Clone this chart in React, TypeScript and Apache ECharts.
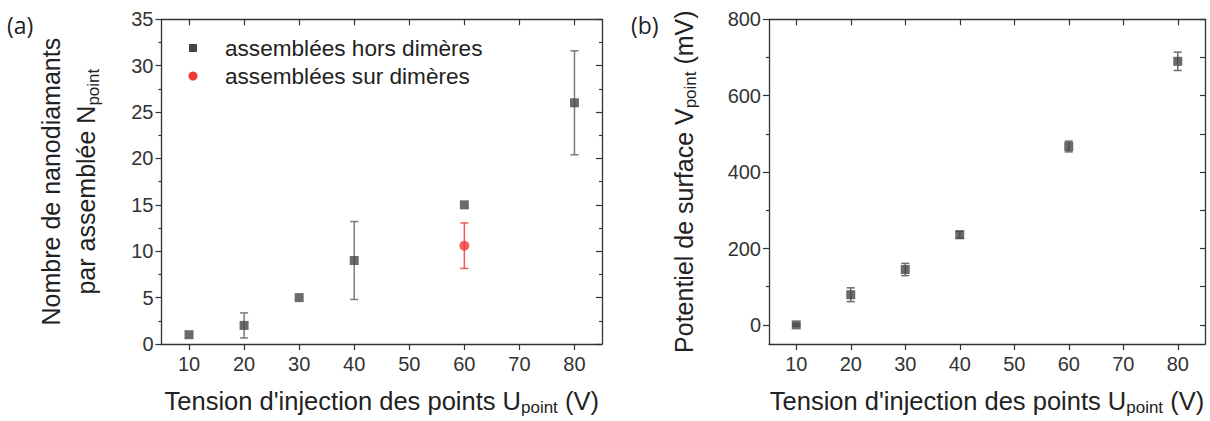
import React, { useEffect, useRef } from "react";
import * as echarts from "echarts";

// ---------- data ----------
const xTicks = [10, 20, 30, 40, 50, 60, 70, 80];

// (a) Nombre de nanodiamants par assemblée
const horsX = [10, 20, 30, 40, 60, 80];
const horsY = [1, 2, 5, 9, 15, 26];
const horsErr = [0, 1.35, 0, 4.2, 0, 5.6];
const surX = [60];
const surY = [10.6];
const surErr = [2.45];

// (b) Potentiel de surface
const vX = [10, 20, 30, 40, 60, 80];
const vY = [0, 79, 145, 236, 467, 690];
const vErr = [3, 18, 16, 9, 14, 24];

const bMajor = [0, 200, 400, 600, 800];
const bMinor = [100, 300, 500, 700];
const bAll = [0, 100, 200, 300, 400, 500, 600, 700, 800];

const legendLabels = ["assemblées hors dimères", "assemblées sur dimères"];

// ---------- styles ----------
const FONT = "Liberation Sans, Arial, sans-serif";
const GREY = "#464646";
const RED = "#f03a3a";
const AXIS = "#333333";

function errRender(color: string) {
  return (params: any, api: any) => {
    const x = api.value(0);
    const y = api.value(1);
    const e = api.value(2);
    if (!e) return { type: "group", children: [] };
    const top = api.coord([x, y + e]);
    const bot = api.coord([x, y - e]);
    const hw = 4;
    const st = { stroke: color, lineWidth: 1.5 };
    return {
      type: "group",
      children: [
        { type: "line", shape: { x1: top[0], y1: top[1], x2: bot[0], y2: bot[1] }, style: st },
        { type: "line", shape: { x1: top[0] - hw, y1: top[1], x2: top[0] + hw, y2: top[1] }, style: st },
        { type: "line", shape: { x1: bot[0] - hw, y1: bot[1], x2: bot[0] + hw, y2: bot[1] }, style: st },
      ],
    };
  };
}

const axisLine = { show: true, onZero: false, lineStyle: { color: AXIS, width: 1.3 } };
const tickStyle = { color: AXIS, width: 1.2 };
const labelStyle = { fontSize: 20, color: "#333", fontFamily: FONT };
const nameStyle = (size: number) => ({
  fontSize: size,
  color: "#222",
  fontFamily: FONT,
  rich: {
    sub: { fontSize: 17, color: "#222", fontFamily: FONT, padding: [14, 0, 0, 0] },
  },
});

function xBottom(grid: number) {
  return {
    type: "value",
    gridIndex: grid,
    position: "bottom",
    min: 5,
    max: 85,
    axisLine,
    axisTick: { show: true, customValues: xTicks, length: 6, lineStyle: tickStyle },
    axisLabel: { show: true, customValues: xTicks, margin: 10, ...labelStyle },
    splitLine: { show: false },
    name: "Tension d'injection des points U{sub|point} (V)",
    nameLocation: "middle",
    nameGap: 41,
    nameTextStyle: nameStyle(25.5),
  };
}
function xTop(grid: number) {
  return {
    type: "value",
    gridIndex: grid,
    position: "top",
    min: 5,
    max: 85,
    axisLine,
    axisTick: { show: true, inside: true, customValues: xTicks, length: 6, lineStyle: tickStyle },
    axisLabel: { show: false },
    splitLine: { show: false },
  };
}

export default function App() {
  const ref = useRef<HTMLDivElement>(null);
  useEffect(() => {
    if (!ref.current) return;
    const chart = echarts.init(ref.current, null, { renderer: "svg" });
    const horsData = horsX.map((x, i) => [x, horsY[i], horsErr[i]]);
    const surData = surX.map((x, i) => [x, surY[i], surErr[i]]);
    const vData = vX.map((x, i) => [x, vY[i], vErr[i]]);

    const option: any = {
      animation: false,
      backgroundColor: "#ffffff",
      grid: [
        { left: 161.5, top: 19.3, width: 440.5, height: 327.7 },
        { left: 769, top: 19.3, width: 436, height: 327.7 },
      ],
      xAxis: [xBottom(0), xTop(0), xBottom(1), xTop(1)],
      yAxis: [
        {
          type: "value",
          gridIndex: 0,
          position: "left",
          min: 0,
          max: 35,
          interval: 5,
          axisLine,
          axisTick: { show: true, length: 6, lineStyle: tickStyle },
          minorTick: { show: true, splitNumber: 2, length: 3, lineStyle: tickStyle },
          axisLabel: { margin: 8, ...labelStyle },
          splitLine: { show: false },
          minorSplitLine: { show: false },
          name: "Nombre de nanodiamants\npar assemblée N{sub|point}",
          nameLocation: "middle",
          nameRotate: 90,
          nameGap: 58,
          nameTextStyle: { ...nameStyle(25), lineHeight: 35 },
        },
        {
          type: "value",
          gridIndex: 0,
          position: "right",
          min: 0,
          max: 35,
          interval: 5,
          axisLine,
          axisTick: { show: true, inside: true, length: 6, lineStyle: tickStyle },
          minorTick: { show: true, splitNumber: 2, length: 3, lineStyle: tickStyle },
          axisLabel: { show: false },
          splitLine: { show: false },
        },
        {
          type: "value",
          gridIndex: 1,
          position: "left",
          min: -50,
          max: 800,
          axisLine,
          axisTick: { show: true, customValues: bMajor, length: 6, lineStyle: tickStyle },
          axisLabel: { customValues: bMajor, margin: 8, ...labelStyle },
          splitLine: { show: false },
          name: "Potentiel de surface V{sub|point} (mV)",
          nameLocation: "middle",
          nameRotate: 90,
          nameGap: 70,
          nameTextStyle: nameStyle(25),
        },
        {
          type: "value",
          gridIndex: 1,
          position: "right",
          min: -50,
          max: 800,
          axisLine,
          axisTick: { show: true, inside: true, customValues: bAll, length: 5, lineStyle: tickStyle },
          axisLabel: { show: false },
          splitLine: { show: false },
        },
        {
          type: "value",
          gridIndex: 1,
          position: "left",
          min: -50,
          max: 800,
          axisLine: { show: false },
          axisTick: { show: true, customValues: bMinor, length: 3, lineStyle: tickStyle },
          axisLabel: { show: false },
          splitLine: { show: false },
        },
      ],
      series: [
        {
          type: "custom",
          xAxisIndex: 0,
          yAxisIndex: 0,
          renderItem: errRender("#7a7a7a"),
          data: horsData,
          encode: { x: 0, y: 1 },
          z: 1,
        },
        {
          type: "scatter",
          name: legendLabels[0],
          xAxisIndex: 0,
          yAxisIndex: 0,
          symbol: "rect",
          symbolSize: 9,
          itemStyle: { color: GREY },
          data: horsData.map((d) => [d[0], d[1]]),
          z: 3,
        },
        {
          type: "custom",
          xAxisIndex: 0,
          yAxisIndex: 0,
          renderItem: errRender("#ee5a5a"),
          data: surData,
          encode: { x: 0, y: 1 },
          z: 1,
        },
        {
          type: "scatter",
          name: legendLabels[1],
          xAxisIndex: 0,
          yAxisIndex: 0,
          symbol: "circle",
          symbolSize: 10,
          itemStyle: { color: RED },
          data: surData.map((d) => [d[0], d[1]]),
          z: 3,
        },
        {
          type: "custom",
          xAxisIndex: 2,
          yAxisIndex: 2,
          renderItem: errRender("#6a6a6a"),
          data: vData,
          encode: { x: 0, y: 1 },
          z: 1,
        },
        {
          type: "scatter",
          xAxisIndex: 2,
          yAxisIndex: 2,
          symbol: "rect",
          symbolSize: 9,
          itemStyle: { color: GREY },
          data: vData.map((d) => [d[0], d[1]]),
          z: 3,
        },
      ],
      graphic: [
        {
          type: "text",
          left: 7,
          top: 13,
          style: { text: "(a)", fontSize: 23, fill: "#222", fontFamily: "Open Sans, sans-serif" },
        },
        {
          type: "text",
          left: 631,
          top: 13,
          style: { text: "(b)", fontSize: 23, fill: "#222", fontFamily: "Open Sans, sans-serif" },
        },
        {
          type: "rect",
          shape: { x: 189, y: 44, width: 8, height: 8 },
          style: { fill: GREY },
        },
        {
          type: "circle",
          shape: { cx: 193, cy: 76, r: 4.5 },
          style: { fill: RED },
        },
        {
          type: "text",
          x: 225,
          y: 48,
          style: {
            text: legendLabels[0],
            fontSize: 22.6,
            fill: "#222",
            fontFamily: FONT,
            textVerticalAlign: "middle",
            verticalAlign: "middle",
          },
        },
        {
          type: "text",
          x: 225,
          y: 76,
          style: {
            text: legendLabels[1],
            fontSize: 22.6,
            fill: "#222",
            fontFamily: FONT,
            textVerticalAlign: "middle",
            verticalAlign: "middle",
          },
        },
      ],
    };
    chart.setOption(option);
    return () => chart.dispose();
  }, []);
  return (
    <div
      ref={ref}
      style={{ position: "fixed", left: 0, top: 0, width: 1210, height: 421, background: "#fff" }}
    />
  );
}
